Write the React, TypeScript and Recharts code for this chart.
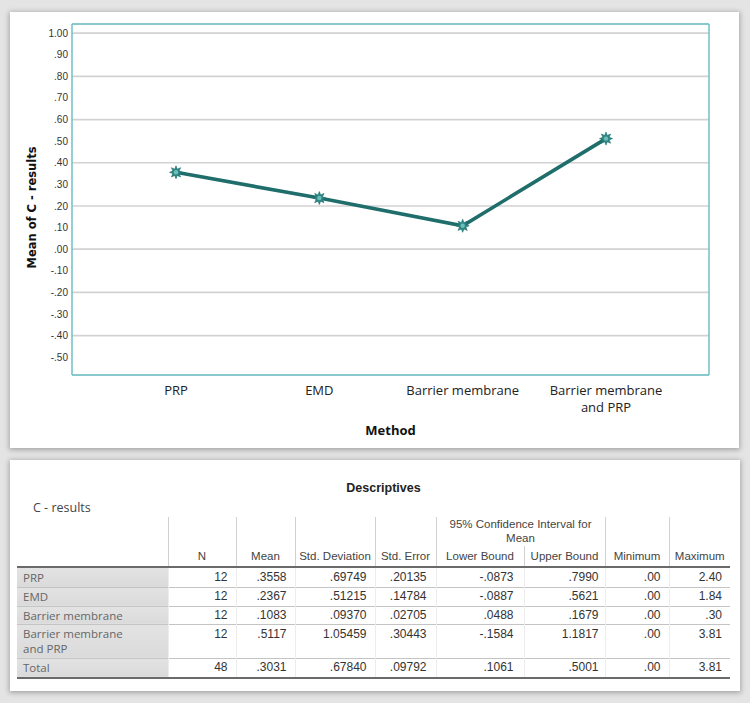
import React from 'react';
import { LineChart, Line, XAxis, YAxis, CartesianGrid, Label, Text } from 'recharts';

/* ─── DATA ─────────────────────────────────────── */
const methods = ['PRP', 'EMD', 'Barrier membrane', 'Barrier membrane and PRP'];
const meanValues = [0.3558, 0.2367, 0.1083, 0.5117];
const yTicks = [-0.5, -0.4, -0.3, -0.2, -0.1, 0, 0.1, 0.2, 0.3, 0.4, 0.5, 0.6, 0.7, 0.8, 0.9, 1.0];
const yDomain = [-0.582, 1.042];

const tableRows = [...methods, 'Total'];
const nValues = ['12', '12', '12', '12', '48'];
const meanCol = ['.3558', '.2367', '.1083', '.5117', '.3031'];
const stdDevCol = ['.69749', '.51215', '.09370', '1.05459', '.67840'];
const stdErrCol = ['.20135', '.14784', '.02705', '.30443', '.09792'];
const lowerCol = ['-.0873', '-.0887', '.0488', '-.1584', '.1061'];
const upperCol = ['.7990', '.5621', '.1679', '1.1817', '.5001'];
const minCol = ['.00', '.00', '.00', '.00', '.00'];
const maxCol = ['2.40', '1.84', '.30', '3.81', '3.81'];

const chartData = methods.map((m, i) => ({ method: m, mean: meanValues[i] }));

const TEAL = '#1f6e6c';
const FRAME = '#6cc2c7';
const NARROW = '"Liberation Sans Narrow", "Arial Narrow", "Liberation Sans", Arial, sans-serif';
const SEGOE = '"Open Sans", "Noto Sans", sans-serif';

// SPSS style numbers: .50, -.10, 1.00
const spss = (v: number) => {
  const s = Math.abs(v).toFixed(2);
  return (v < 0 ? '-' : '') + (s.startsWith('0') ? s.slice(1) : s);
};

/* ─── CHART PARTS ─────────────────────────────────────── */
const StarDot = (props: any) => {
  const { cx, cy, index } = props;
  if (cx == null || cy == null) return null;
  const pts: string[] = [];
  for (let i = 0; i < 16; i++) {
    const r = i % 2 === 0 ? 6.5 : 3.4;
    const a = (Math.PI / 8) * i;
    pts.push(`${cx + r * Math.cos(a)},${cy + r * Math.sin(a)}`);
  }
  return (
    <g key={`dot-${index}`}>
      <polygon points={pts.join(' ')} fill="#2b8784" stroke={TEAL} strokeWidth={0.6} />
      <circle cx={cx} cy={cy} r={2.2} fill="#6fbdb8" />
    </g>
  );
};

const MethodTick = ({ x, y, payload }: any) => (
  <Text
    x={x}
    y={y + 11}
    width={128}
    textAnchor="middle"
    verticalAnchor="start"
    lineHeight="1.3em"
    fontSize={13}
    fontFamily={SEGOE}
    fill="#222"
  >
    {payload.value}
  </Text>
);

const YTitle = ({ viewBox }: any) => {
  const x = viewBox.x + 10;
  const y = viewBox.y + viewBox.height / 2 + 8;
  return (
    <text
      x={x}
      y={y}
      transform={`rotate(-90, ${x}, ${y})`}
      textAnchor="middle"
      dominantBaseline="central"
      fontFamily='"DejaVu Sans", Verdana, sans-serif'
      fontWeight="bold"
      fontSize={11.5}
      fill="#111"
    >
      Mean of C - results
    </text>
  );
};

const MeanPlot = () => (
  <LineChart width={729} height={436} data={chartData} margin={{ top: 12, right: 30, left: 12, bottom: 0 }}>
    <CartesianGrid vertical={false} stroke="#d2d2d2" strokeWidth={1.7} />
    <CartesianGrid
      stroke={FRAME}
      strokeWidth={1.5}
      horizontalCoordinatesGenerator={({ offset }: any) => [offset.top, offset.top + offset.height]}
      verticalCoordinatesGenerator={({ offset }: any) => [offset.left, offset.left + offset.width]}
    />
    <XAxis
      dataKey="method"
      padding={{ left: 104, right: 103 }}
      height={73}
      axisLine={false}
      tickLine={false}
      tickSize={0}
      tickMargin={0}
      interval={0}
      tick={<MethodTick />}
    >
      <Label value="Method" position="insideBottom" offset={13} fontFamily={SEGOE} fontWeight="bold" fontSize={13} fill="#111" />
    </XAxis>
    <YAxis
      type="number"
      domain={yDomain}
      ticks={yTicks}
      width={50}
      axisLine={false}
      tickLine={false}
      tickSize={0}
      tickMargin={4}
      tickFormatter={spss}
      tick={{ fontSize: 10, fill: '#333', fontFamily: NARROW }}
      allowDataOverflow
    >
      <Label content={<YTitle />} />
    </YAxis>
    <Line
      type="linear"
      dataKey="mean"
      stroke={TEAL}
      strokeWidth={3.6}
      dot={<StarDot />}
      activeDot={false}
      isAnimationActive={false}
    />
  </LineChart>
);

/* ─── DESCRIPTIVES TABLE ─────────────────────────────────────── */
const colWidths = [151, 68, 59, 80, 61, 88, 81, 64, 61];
const numCols = [nValues, meanCol, stdDevCol, stdErrCol, lowerCol, upperCol, minCol, maxCol];
const padRight = [8, 8, 8, 9, 10, 6, 8, 8];
const rowHeights = [20, 19, 18, 34, 20];

const headSep = '1px solid #d2d2d2';
const headCell: React.CSSProperties = {
  fontFamily: NARROW, fontSize: 11.5, color: '#444', fontWeight: 'normal',
  verticalAlign: 'bottom', textAlign: 'center', padding: '0 1px 4px', borderLeft: headSep, whiteSpace: 'nowrap',
};
const numCell: React.CSSProperties = {
  fontFamily: NARROW, fontSize: 12, color: '#333', textAlign: 'right', borderLeft: '1px solid #ececec',
};

const Descriptives = () => (
  <div style={{ position: 'relative', width: 730, height: 231 }}>
    <div style={{ position: 'absolute', left: 0, width: 747, top: 21, textAlign: 'center', fontFamily: '"Liberation Sans", Arial, sans-serif', fontWeight: 'bold', fontSize: 12.5, color: '#222' }}>
      Descriptives
    </div>
    <div style={{ position: 'absolute', left: 23, top: 39, fontFamily: SEGOE, fontSize: 12.5, color: '#444' }}>C - results</div>
    <table style={{ position: 'absolute', left: 7, top: 57, width: 713, borderCollapse: 'collapse', tableLayout: 'fixed' }}>
      <colgroup>
        {colWidths.map((w, i) => <col key={i} style={{ width: w }} />)}
      </colgroup>
      <thead>
        <tr style={{ height: 29 }}>
          <th rowSpan={2} style={{ ...headCell, borderLeft: 'none' }} />
          <th rowSpan={2} style={headCell}>N</th>
          <th rowSpan={2} style={headCell}>Mean</th>
          <th rowSpan={2} style={headCell}>Std. Deviation</th>
          <th rowSpan={2} style={headCell}>Std. Error</th>
          <th colSpan={2} style={{ ...headCell, padding: '0 0 1px', lineHeight: '14px', whiteSpace: 'normal' }}>95% Confidence Interval for Mean</th>
          <th rowSpan={2} style={headCell}>Minimum</th>
          <th rowSpan={2} style={headCell}>Maximum</th>
        </tr>
        <tr style={{ height: 21, borderBottom: '2px solid #6a6a6a' }}>
          <th style={headCell}>Lower Bound</th>
          <th style={headCell}>Upper Bound</th>
        </tr>
      </thead>
      <tbody>
        {tableRows.map((label, r) => (
          <tr
            key={label}
            style={{
              height: rowHeights[r],
              borderBottom: r === tableRows.length - 1 ? '2px solid #6a6a6a' : '1px solid #c4c4c4',
            }}
          >
            <td style={{ background: 'linear-gradient(#e3e3e3, #dadada)', fontFamily: SEGOE, fontSize: 11.5, color: '#666', padding: '0 34px 0 6px', lineHeight: '15px', verticalAlign: r === 3 ? 'top' : 'middle', paddingTop: r === 3 ? 1 : 0 }}>
              {label}
            </td>
            {numCols.map((col, c) => (
              <td key={c} style={{ ...numCell, paddingRight: padRight[c], verticalAlign: r === 3 ? 'top' : 'middle', paddingTop: r === 3 ? 2 : 0 }}>
                {col[r]}
              </td>
            ))}
          </tr>
        ))}
      </tbody>
    </table>
  </div>
);

/* ─── APP ─────────────────────────────────────── */
const card: React.CSSProperties = {
  position: 'absolute', left: 10, background: '#fff', boxShadow: '0 1px 5px 1px rgba(0,0,0,0.28)',
};

export default function App() {
  return (
    <div style={{ position: 'absolute', left: 0, top: 0, width: 750, height: 703, background: '#e4e4e4', overflow: 'hidden' }}>
      <div style={{ ...card, top: 12, width: 729, height: 436 }}>
        <MeanPlot />
      </div>
      <div style={{ ...card, top: 460, width: 730, height: 231 }}>
        <Descriptives />
      </div>
    </div>
  );
}
